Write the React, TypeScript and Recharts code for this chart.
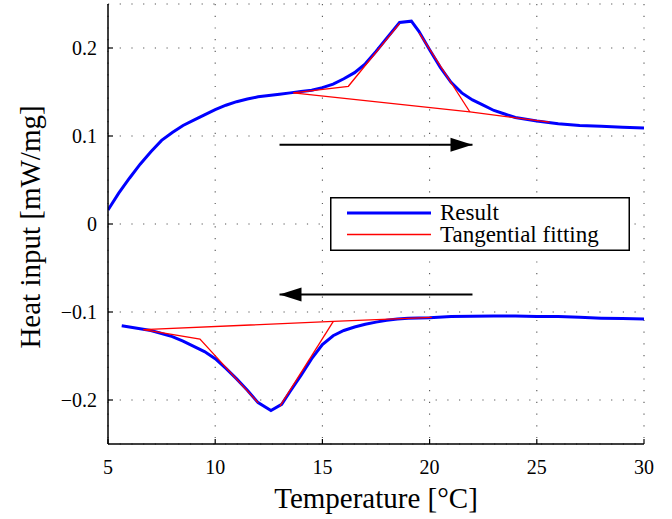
import { LineChart, Line, XAxis, YAxis, CartesianGrid, Legend } from "recharts";

const FONT = "Liberation Serif, DejaVu Serif, serif";

const xTicks = [5, 10, 15, 20, 25, 30];
const yTicks = [-0.2, -0.1, 0, 0.1, 0.2];

// heating run (upper curve)
const heatT = [5.0, 5.5, 6.0, 6.5, 7.0, 7.5, 8.0, 8.5, 9.0, 9.5, 10.0, 10.5, 11.0, 11.5, 12.0, 12.5, 13.0, 13.5, 14.0, 14.5, 15.0, 15.5, 16.0, 16.5, 17.0, 17.5, 18.0, 18.6, 19.15, 19.5, 20.0, 20.5, 21.0, 21.5, 22.0, 22.5, 23.0, 23.5, 24.0, 24.5, 25.0, 26.0, 27.0, 28.0, 29.0, 30.0];
const heatQ = [0.016, 0.035, 0.052, 0.068, 0.082, 0.095, 0.104, 0.112, 0.118, 0.124, 0.13, 0.135, 0.139, 0.142, 0.1445, 0.146, 0.1475, 0.149, 0.1505, 0.152, 0.155, 0.159, 0.165, 0.172, 0.182, 0.196, 0.211, 0.229, 0.2305, 0.219, 0.198, 0.178, 0.161, 0.149, 0.141, 0.135, 0.129, 0.125, 0.121, 0.119, 0.117, 0.114, 0.112, 0.111, 0.11, 0.109];

// cooling run (lower curve)
const coolT = [5.64, 6.0, 6.5, 7.0, 7.5, 8.0, 8.5, 9.0, 9.5, 10.0, 10.5, 11.0, 11.5, 12.0, 12.6, 13.1, 13.5, 14.0, 14.5, 15.0, 15.5, 16.0, 16.5, 17.0, 17.5, 18.0, 18.5, 19.0, 20.0, 21.0, 22.0, 23.0, 24.0, 25.0, 26.0, 27.0, 28.0, 29.0, 30.0];
const coolQ = [-0.1156, -0.117, -0.119, -0.121, -0.1245, -0.128, -0.133, -0.139, -0.145, -0.153, -0.164, -0.176, -0.189, -0.203, -0.212, -0.205, -0.19, -0.172, -0.153, -0.137, -0.127, -0.121, -0.117, -0.114, -0.1115, -0.1095, -0.108, -0.107, -0.1065, -0.105, -0.1048, -0.1046, -0.1046, -0.105, -0.1052, -0.106, -0.107, -0.1075, -0.108];

// tangential fitting segments
const heatBase = [{ x: 13.64, y: 0.149 }, { x: 21.88, y: 0.1273 }, { x: 25.6, y: 0.1157 }];
const heatRise = [{ x: 13.64, y: 0.149 }, { x: 16.21, y: 0.1565 }, { x: 18.6, y: 0.228 }];
const heatFall = [{ x: 19.52, y: 0.217 }, { x: 21.88, y: 0.1273 }];
const coolBase = [{ x: 6.65, y: -0.12 }, { x: 15.51, y: -0.1107 }, { x: 20.1, y: -0.1062 }];
const coolDrop = [{ x: 6.65, y: -0.12 }, { x: 9.29, y: -0.1307 }, { x: 12.01, y: -0.2033 }];
const coolRise = [{ x: 13.02, y: -0.207 }, { x: 15.51, y: -0.1107 }];

// direction arrows
const heatArrow = [{ x: 13, y: 0.09 }, { x: 22, y: 0.09 }];
const coolArrow = [{ x: 22, y: -0.08 }, { x: 13, y: -0.08 }];

const toPts = (xs: number[], ys: number[]) => xs.map((x, i) => ({ x, y: ys[i] }));
const heatData = toPts(heatT, heatQ);
const coolData = toPts(coolT, coolQ);

const fmtY = (v: number) => (v < 0 ? `\u2212${Math.abs(v)}` : String(v));

const txt = { fontFamily: FONT, fill: "black" };

const BottomTick = ({ x, y, payload }: any) => (
  <g>
    <line x1={x} x2={x} y1={y} y2={y - 5} stroke="black" strokeWidth={1.2} />
    <text x={x} y={y + 30} textAnchor="middle" style={{ ...txt, fontSize: 20 }}>
      {payload.value}
    </text>
  </g>
);

const TopTick = ({ x, y }: any) => (
  <line x1={x} x2={x} y1={y} y2={y + 5} stroke="black" strokeWidth={1.2} />
);

const LeftTick = ({ x, y, payload }: any) => (
  <g>
    <line x1={x} x2={x + 5} y1={y} y2={y} stroke="black" strokeWidth={1.2} />
    <text x={x - 11} y={y + 7} textAnchor="end" style={{ ...txt, fontSize: 20 }}>
      {fmtY(payload.value)}
    </text>
  </g>
);

const RightTick = ({ x, y }: any) => (
  <line x1={x} x2={x - 5} y1={y} y2={y} stroke="black" strokeWidth={1.2} />
);

const arrowHead = (dir: number) => (props: any) => {
  const { cx, cy, index } = props;
  if (index !== 1) return <g key={`p${index}`} />;
  return (
    <polygon
      key="head"
      points={`${cx},${cy} ${cx - dir * 22},${cy - 7} ${cx - dir * 22},${cy + 7}`}
      fill="black"
    />
  );
};

const LegendBox = ({ payload }: any) => (
  <svg width={300} height={54} style={{ display: "block" }}>
    <rect x={0.75} y={0.75} width={298.5} height={52.5} fill="white" stroke="black" strokeWidth={1.5} />
    {(payload || []).map((p: any, i: number) => (
      <g key={p.value}>
        <line
          x1={17}
          x2={101}
          y1={16 + i * 21.5}
          y2={16 + i * 21.5}
          stroke={p.color}
          strokeWidth={i === 0 ? 3 : 1.3}
        />
        <text x={110} y={22.5 + i * 22.5} style={{ ...txt, fontSize: 23 }}>
          {p.value}
        </text>
      </g>
    ))}
  </svg>
);

export default function App() {
  return (
    <div style={{ position: "absolute", left: 0, top: 0, background: "white", fontFamily: FONT }}>
      <LineChart width={672} height={519} margin={{ top: 4, right: 28, bottom: 0, left: 0 }}>
        <CartesianGrid stroke="#555" strokeWidth={1.1} strokeDasharray="1.2 10.5" />
        <XAxis
          dataKey="x"
          type="number"
          domain={[5, 30]}
          ticks={xTicks}
          interval={0}
          height={75}
          tickSize={0}
          tickMargin={0}
          tickLine={false}
          tick={<BottomTick />}
          axisLine={{ stroke: "black", strokeWidth: 1.5 }}
          allowDataOverflow
          label={{
            content: ({ viewBox }: any) => (
              <text
                x={viewBox.x + viewBox.width / 2}
                y={508}
                textAnchor="middle"
                style={{ ...txt, fontSize: 29 }}
              >
                Temperature [°C]
              </text>
            ),
          }}
        />
        <XAxis
          xAxisId="top"
          orientation="top"
          type="number"
          domain={[5, 30]}
          ticks={xTicks}
          interval={0}
          height={0}
          tickSize={0}
          tickMargin={0}
          tickLine={false}
          tick={<TopTick />}
          axisLine={{ stroke: "black", strokeWidth: 1.5 }}
          allowDataOverflow
        />
        <YAxis
          type="number"
          domain={[-0.25, 0.25]}
          ticks={yTicks}
          interval={0}
          width={108}
          tickSize={0}
          tickMargin={0}
          tickLine={false}
          tick={<LeftTick />}
          axisLine={{ stroke: "black", strokeWidth: 1.5 }}
          allowDataOverflow
          label={{
            content: ({ viewBox }: any) => {
              const cy = viewBox.y + viewBox.height / 2 + 3;
              return (
                <text
                  x={40}
                  y={cy}
                  transform={`rotate(-90 40 ${cy})`}
                  textAnchor="middle"
                  style={{ ...txt, fontSize: 29 }}
                >
                  Heat input [mW/mg]
                </text>
              );
            },
          }}
        />
        <YAxis
          yAxisId="right"
          orientation="right"
          type="number"
          domain={[-0.25, 0.25]}
          ticks={yTicks}
          interval={0}
          width={0}
          tickSize={0}
          tickMargin={0}
          tickLine={false}
          tick={<RightTick />}
          axisLine={{ stroke: "black", strokeWidth: 1.5 }}
          allowDataOverflow
        />
        <Legend
          layout="horizontal"
          verticalAlign="middle"
          align="center"
          wrapperStyle={{ left: 330, top: 197, width: 300, height: 54 }}
          content={<LegendBox />}
        />
        <Line data={heatData} dataKey="y" name="Result" stroke="#0000ff" strokeWidth={3} dot={false} activeDot={false} isAnimationActive={false} />
        <Line data={heatBase} dataKey="y" name="Tangential fitting" stroke="#ff0000" strokeWidth={1.3} dot={false} activeDot={false} isAnimationActive={false} />
        <Line data={coolData} dataKey="y" name="cool" legendType="none" stroke="#0000ff" strokeWidth={3} dot={false} activeDot={false} isAnimationActive={false} />
        <Line data={heatRise} dataKey="y" name="hr" legendType="none" stroke="#ff0000" strokeWidth={1.3} dot={false} activeDot={false} isAnimationActive={false} />
        <Line data={heatFall} dataKey="y" name="hf" legendType="none" stroke="#ff0000" strokeWidth={1.3} dot={false} activeDot={false} isAnimationActive={false} />
        <Line data={coolBase} dataKey="y" name="cb" legendType="none" stroke="#ff0000" strokeWidth={1.3} dot={false} activeDot={false} isAnimationActive={false} />
        <Line data={coolDrop} dataKey="y" name="cd" legendType="none" stroke="#ff0000" strokeWidth={1.3} dot={false} activeDot={false} isAnimationActive={false} />
        <Line data={coolRise} dataKey="y" name="cr" legendType="none" stroke="#ff0000" strokeWidth={1.3} dot={false} activeDot={false} isAnimationActive={false} />
        <Line data={heatArrow} dataKey="y" name="ha" legendType="none" stroke="black" strokeWidth={2} dot={arrowHead(1)} activeDot={false} isAnimationActive={false} />
        <Line data={coolArrow} dataKey="y" name="ca" legendType="none" stroke="black" strokeWidth={2} dot={arrowHead(-1)} activeDot={false} isAnimationActive={false} />
      </LineChart>
    </div>
  );
}
